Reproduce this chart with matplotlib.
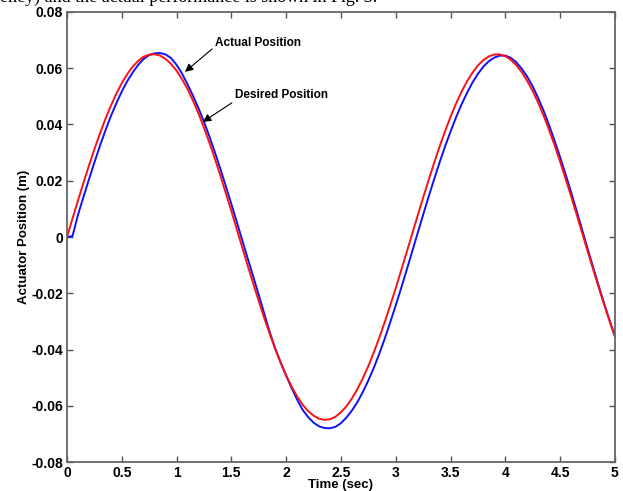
import numpy as np
import matplotlib.pyplot as plt

# Time samples (sec), every 0.05 s
time_sec = [round(0.05 * i, 2) for i in range(101)]

# Desired actuator position (m)
desired_pos = [0.0, 0.0065, 0.0129, 0.0192, 0.0253, 0.0312, 0.0367, 0.0419, 0.0466, 0.0509,
               0.0547, 0.0579, 0.0606, 0.0626, 0.0641, 0.0648, 0.0650, 0.0645, 0.0633, 0.0615,
               0.0591, 0.0561, 0.0526, 0.0485, 0.0439, 0.0389, 0.0335, 0.0278, 0.0218, 0.0155,
               0.0092, 0.0027, -0.0038, -0.0103, -0.0166, -0.0228, -0.0288, -0.0344, -0.0398, -0.0447,
               -0.0492, -0.0532, -0.0567, -0.0596, -0.0619, -0.0635, -0.0646, -0.0650, -0.0648, -0.0639,
               -0.0623, -0.0602, -0.0574, -0.0541, -0.0502, -0.0459, -0.0410, -0.0358, -0.0302, -0.0243,
               -0.0182, -0.0118, -0.0054, 0.0011, 0.0076, 0.0140, 0.0202, 0.0263, 0.0321, 0.0376,
               0.0427, 0.0474, 0.0516, 0.0553, 0.0584, 0.0610, 0.0629, 0.0642, 0.0649, 0.0649,
               0.0643, 0.0630, 0.0611, 0.0586, 0.0555, 0.0519, 0.0477, 0.0431, 0.0380, 0.0326,
               0.0268, 0.0207, 0.0145, 0.0081, 0.0016, -0.0049, -0.0113, -0.0177, -0.0238, -0.0297,
               -0.0354]

# Actual actuator position (m)
actual_pos = [0.0, 0.0003, 0.0078, 0.0142, 0.0204, 0.0265, 0.0323, 0.0378, 0.0429, 0.0475,
              0.0517, 0.0554, 0.0585, 0.0612, 0.0633, 0.0647, 0.0653, 0.0654, 0.0649, 0.0636,
              0.0612, 0.0581, 0.0543, 0.0502, 0.0458, 0.0410, 0.0357, 0.0301, 0.0242, 0.0180,
              0.0117, 0.0053, -0.0012, -0.0077, -0.0141, -0.0206, -0.0272, -0.0338, -0.0396, -0.0446,
              -0.0493, -0.0537, -0.0578, -0.0614, -0.0640, -0.0660, -0.0673, -0.0679, -0.0680, -0.0675,
              -0.0662, -0.0642, -0.0617, -0.0587, -0.0551, -0.0510, -0.0465, -0.0415, -0.0361, -0.0303,
              -0.0243, -0.0181, -0.0117, -0.0052, 0.0014, 0.0079, 0.0143, 0.0205, 0.0265, 0.0322,
              0.0375, 0.0425, 0.0471, 0.0512, 0.0549, 0.0580, 0.0606, 0.0625, 0.0638, 0.0645,
              0.0645, 0.0637, 0.0621, 0.0598, 0.0570, 0.0535, 0.0494, 0.0448, 0.0397, 0.0342,
              0.0284, 0.0223, 0.0160, 0.0094, 0.0027, -0.0040, -0.0106, -0.0171, -0.0234, -0.0295,
              -0.0352]

xticks = [0, 0.5, 1, 1.5, 2, 2.5, 3, 3.5, 4, 4.5, 5]
xtick_labels = ["0", "0.5", "1", "1.5", "2", "2.5", "3", "3.5", "4", "4.5", "5"]
yticks = [-0.08, -0.06, -0.04, -0.02, 0, 0.02, 0.04, 0.06, 0.08]
ytick_labels = ["-0.08", "-0.06", "-0.04", "-0.02", "0", "0.02", "0.04", "0.06", "0.08"]

plt.rcParams['font.family'] = ['Liberation Sans', 'DejaVu Sans']

fig = plt.figure(figsize=(6.23, 4.91), dpi=100)
ax = fig.add_axes([0.1075, 0.059, 0.8795, 0.9166])

# Plot
ax.plot(time_sec, actual_pos, color='#1010ff', linewidth=1.4)
ax.plot(time_sec, desired_pos, color='#ff1010', linewidth=1.4)

ax.set_xlim(0, 5)
ax.set_ylim(-0.08, 0.08)
ax.set_xticks(xticks)
ax.set_xticklabels(xtick_labels, fontweight='bold', fontsize=10)
ax.set_yticks(yticks)
ax.set_yticklabels(ytick_labels, fontweight='bold', fontsize=10)
ax.tick_params(direction='in', top=True, right=True, length=4, width=1, color='#555555', pad=3)

for s in ax.spines.values():
    s.set_color('#666666')
    s.set_linewidth(1.3)

ax.set_xlabel("Time (sec)", fontweight='bold', fontsize=9.5, labelpad=-1)
ax.set_ylabel("Actuator Position (m)", fontweight='bold', fontsize=9.5, labelpad=1)

# Annotations
ax.annotate("Actual Position", xy=(1.077, 0.0587), xytext=(1.35, 0.069),
            fontweight='bold', fontsize=8.5, va='center', ha='left',
            arrowprops=dict(arrowstyle='-|>', color='black', lw=0.8,
                            shrinkA=0, shrinkB=0, mutation_scale=12,
                            relpos=(0, 0.2)))
ax.annotate("Desired Position", xy=(1.24, 0.0409), xytext=(1.53, 0.0505),
            fontweight='bold', fontsize=8.5, va='center', ha='left',
            arrowprops=dict(arrowstyle='-|>', color='black', lw=0.8,
                            shrinkA=0, shrinkB=0, mutation_scale=12,
                            relpos=(0, 0.0)))

# Cropped caption text from the page above the figure
fig.text(0.0, 1 - 1.5 / 491, "ency) and the actual performance is shown in Fig. 3.",
         family='Liberation Serif', fontsize=13, va='baseline', ha='left')

fig.savefig("out.png", dpi=100)
